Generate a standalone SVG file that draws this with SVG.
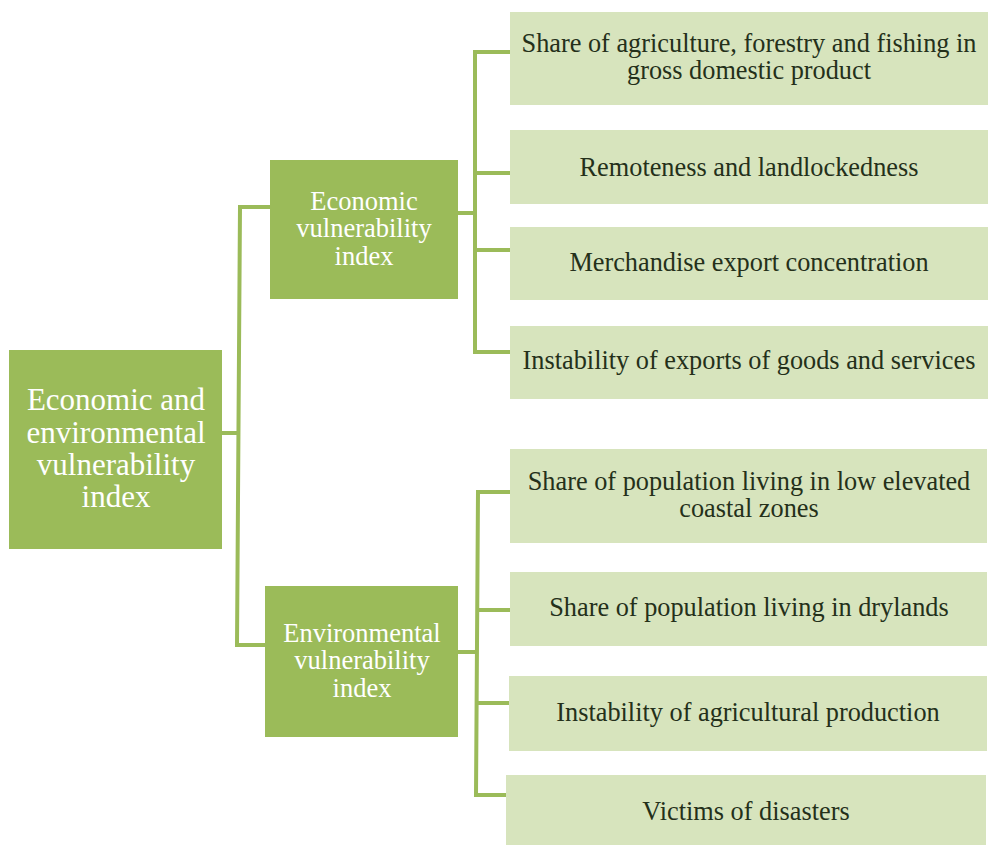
<svg xmlns="http://www.w3.org/2000/svg" width="988" height="845" viewBox="0 0 988 845">
<style>
.dark{fill:#9BBB59}
.light{fill:#D7E4BD}
.c{fill:none;stroke:#9BBB59;stroke-width:4}
text{font-family:'Liberation Serif',serif;text-anchor:middle}
.w{fill:#ffffff}
.k{fill:#24301a;font-size:26.3px}
</style>
<rect width="988" height="845" fill="#ffffff"/>
<g id="connectors">
<path class="c" d="M222 433 H239"/>
<path class="c" d="M270 207 H240 L237 645 H265"/>
<path class="c" d="M458 213 H475"/>
<path class="c" d="M510 52 H475 V352 H510"/>
<path class="c" d="M475 173 H510"/>
<path class="c" d="M475 250 H510"/>
<path class="c" d="M458 652 H477"/>
<path class="c" d="M510 492 H478 L476 795 H506"/>
<path class="c" d="M477 610 H510"/>
<path class="c" d="M477 703 H509"/>
</g>
<g id="root">
<rect class="dark" x="9" y="350" width="213" height="199"/>
<text class="w" font-size="31"><tspan x="116" y="410">Economic and</tspan><tspan x="116" y="443">environmental</tspan><tspan x="116" y="475">vulnerability</tspan><tspan x="116" y="507">index</tspan></text>
</g>
<g id="economic">
<rect class="dark" x="270" y="160" width="188" height="139"/>
<text class="w" font-size="26.5"><tspan x="364" y="210">Economic</tspan><tspan x="364" y="237">vulnerability</tspan><tspan x="364" y="265">index</tspan></text>
</g>
<g id="environmental">
<rect class="dark" x="265" y="586" width="193" height="151"/>
<text class="w" font-size="26.5"><tspan x="362" y="642">Environmental</tspan><tspan x="362" y="669">vulnerability</tspan><tspan x="362" y="697">index</tspan></text>
</g>
<g id="e1">
<rect class="light" x="510" y="12" width="478" height="93"/>
<text class="k"><tspan x="749" y="52">Share of agriculture, forestry and fishing in</tspan><tspan x="749" y="79">gross domestic product</tspan></text>
</g>
<g id="e2">
<rect class="light" x="510" y="130" width="478" height="74"/>
<text class="k" x="749" y="176">Remoteness and landlockedness</text>
</g>
<g id="e3">
<rect class="light" x="510" y="227" width="478" height="73"/>
<text class="k" x="749" y="271">Merchandise export concentration</text>
</g>
<g id="e4">
<rect class="light" x="510" y="326" width="478" height="73"/>
<text class="k" x="749" y="369">Instability of exports of goods and services</text>
</g>
<g id="v1">
<rect class="light" x="510" y="449" width="477" height="94"/>
<text class="k"><tspan x="749" y="490">Share of population living in low elevated</tspan><tspan x="749" y="517">coastal zones</tspan></text>
</g>
<g id="v2">
<rect class="light" x="510" y="572" width="477" height="74"/>
<text class="k" x="749" y="616">Share of population living in drylands</text>
</g>
<g id="v3">
<rect class="light" x="509" y="676" width="478" height="75"/>
<text class="k" x="748" y="721">Instability of agricultural production</text>
</g>
<g id="v4">
<rect class="light" x="506" y="775" width="480" height="70"/>
<text class="k" x="746" y="820">Victims of disasters</text>
</g>
</svg>
